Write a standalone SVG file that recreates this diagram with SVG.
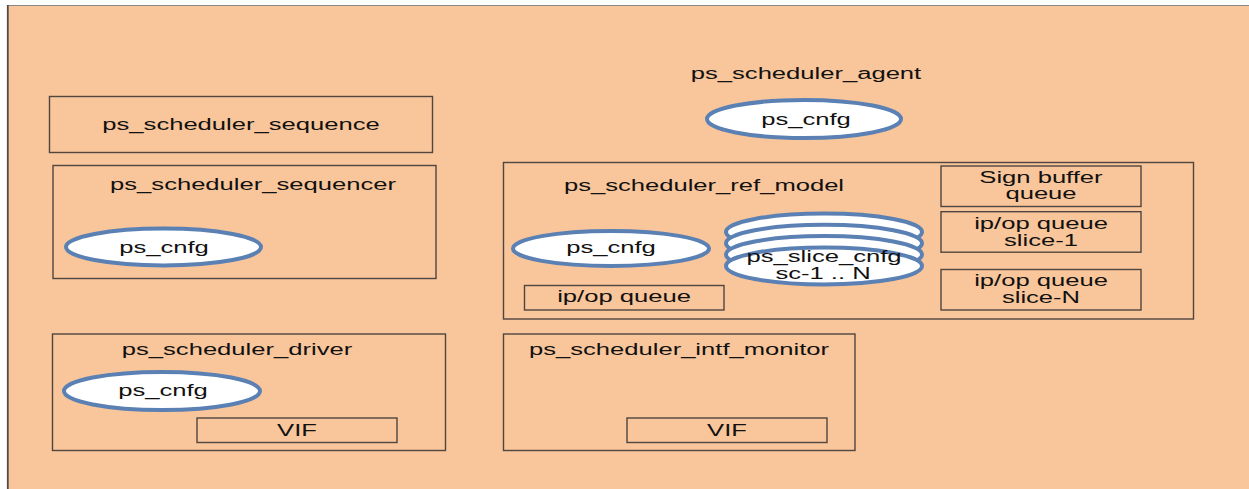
<svg xmlns="http://www.w3.org/2000/svg" width="1249" height="489" viewBox="0 0 1249 489">
  <style>
    .box { fill: none; stroke: #4f4640; stroke-width: 1.4; }
    .cfg { fill: #ffffff; stroke: #5b80b4; stroke-width: 4; }
    .lbl { font-family: "Liberation Sans", Arial, sans-serif; font-size: 16px; fill: #111111; text-anchor: middle; }
  </style>
  <rect width="1249" height="489" fill="#ffffff"/>
  <!-- environment frame -->
  <rect x="7.5" y="5" width="1250" height="490" fill="#f9c59a"/>
  <line x1="7.5" y1="5.5" x2="1249" y2="5.5" stroke="#8a8a8a" stroke-width="1.2"/>
  <line x1="7.8" y1="5" x2="7.8" y2="489" stroke="#4f4a46" stroke-width="1.8"/>

  <g id="agent">
    <text class="lbl" transform="translate(806 78.5) scale(1.6 1)">ps_scheduler_agent</text>
    <ellipse class="cfg" cx="804" cy="119" rx="97" ry="19"/>
    <text class="lbl" transform="translate(806 125) scale(1.6 1)">ps_cnfg</text>
  </g>

  <g id="sequence">
    <rect class="box" x="49.5" y="96.5" width="383" height="56"/>
    <text class="lbl" transform="translate(241 130) scale(1.6 1)">ps_scheduler_sequence</text>
  </g>

  <g id="sequencer">
    <rect class="box" x="53" y="165.5" width="383" height="113"/>
    <text class="lbl" transform="translate(253 190) scale(1.6 1)">ps_scheduler_sequencer</text>
    <ellipse class="cfg" cx="163.5" cy="247" rx="97.5" ry="18.5"/>
    <text class="lbl" transform="translate(164 252.5) scale(1.6 1)">ps_cnfg</text>
  </g>

  <g id="ref_model">
    <rect class="box" x="503.5" y="162.5" width="690" height="156.5"/>
    <text class="lbl" transform="translate(704 190.5) scale(1.6 1)">ps_scheduler_ref_model</text>
    <ellipse class="cfg" cx="611" cy="248.5" rx="98" ry="17.5"/>
    <text class="lbl" transform="translate(611 252.5) scale(1.6 1)">ps_cnfg</text>
    <rect class="box" x="524.5" y="285.5" width="199.5" height="24.5"/>
    <text class="lbl" transform="translate(624 302) scale(1.6 1)">ip/op queue</text>
    <!-- stacked slice configs -->
    <ellipse class="cfg" cx="824" cy="232" rx="98" ry="18.5"/>
    <ellipse class="cfg" cx="824" cy="243.3" rx="98" ry="18.5"/>
    <ellipse class="cfg" cx="824" cy="254.6" rx="98" ry="18.5"/>
    <ellipse class="cfg" cx="824" cy="266" rx="98" ry="18.5"/>
    <text class="lbl" transform="translate(824 262) scale(1.6 1)">ps_slice_cnfg</text>
    <text class="lbl" transform="translate(823 278.5) scale(1.6 1)">sc-1 .. N</text>
    <rect class="box" x="941" y="166" width="200" height="40.5"/>
    <text class="lbl" transform="translate(1041 182.5) scale(1.6 1)">Sign buffer</text>
    <text class="lbl" transform="translate(1041 199) scale(1.6 1)">queue</text>
    <rect class="box" x="941" y="211.7" width="200" height="40.5"/>
    <text class="lbl" transform="translate(1041 228.5) scale(1.6 1)">ip/op queue</text>
    <text class="lbl" transform="translate(1041 246) scale(1.6 1)">slice-1</text>
    <rect class="box" x="941" y="269.5" width="200" height="40.5"/>
    <text class="lbl" transform="translate(1041 286) scale(1.6 1)">ip/op queue</text>
    <text class="lbl" transform="translate(1041 302.5) scale(1.6 1)">slice-N</text>
  </g>

  <g id="driver">
    <rect class="box" x="52.5" y="334" width="393" height="116.5"/>
    <text class="lbl" transform="translate(237 354.5) scale(1.6 1)">ps_scheduler_driver</text>
    <ellipse class="cfg" cx="162" cy="391" rx="98" ry="19"/>
    <text class="lbl" transform="translate(163 395.5) scale(1.6 1)">ps_cnfg</text>
    <rect class="box" x="197" y="418" width="200" height="24.5"/>
    <text class="lbl" transform="translate(297 436) scale(1.6 1)">VIF</text>
  </g>

  <g id="intf_monitor">
    <rect class="box" x="503.5" y="334" width="351.5" height="116.5"/>
    <text class="lbl" transform="translate(679 354.5) scale(1.6 1)">ps_scheduler_intf_monitor</text>
    <rect class="box" x="627" y="418" width="200" height="24.5"/>
    <text class="lbl" transform="translate(727 436) scale(1.6 1)">VIF</text>
  </g>

  <g id="connectors"/>
</svg>
